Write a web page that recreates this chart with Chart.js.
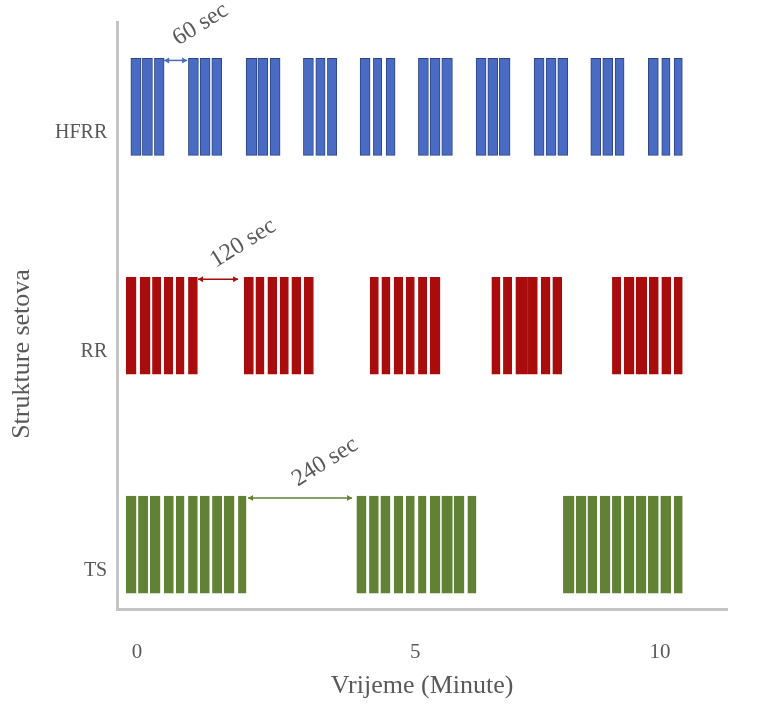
<!DOCTYPE html>
<html>
<head>
<meta charset="utf-8">
<script src="https://cdn.jsdelivr.net/npm/chart.js@4/dist/chart.umd.min.js"></script>
<style>
  html, body { margin: 0; padding: 0; background: #fff; }
  #wrap { width: 762px; height: 712px; }
</style>
</head>
<body>
<div id="wrap"><canvas id="chartSets"></canvas></div>
<script>
// Redovi (strukture setova)
const rowLabels = ['HFRR', 'RR', 'TS'];

// Ponavljanja po redu: [pocetak, kraj] u minutama
const hfrrSets = [
  [-0.12, 0.076], [0.101, 0.293], [0.331, 0.516],
  [0.981, 1.172], [1.205, 1.396], [1.428, 1.620],
  [2.084, 2.289], [2.308, 2.499], [2.543, 2.734],
  [3.180, 3.371], [3.417, 3.595], [3.639, 3.818],
  [4.264, 4.455], [4.518, 4.679], [4.761, 4.933],
  [5.379, 5.570], [5.602, 5.793], [5.826, 6.029],
  [6.482, 6.673], [6.706, 6.897], [6.927, 7.132],
  [7.591, 7.782], [7.820, 8.011], [8.044, 8.235],
  [8.675, 8.866], [8.904, 9.096], [9.140, 9.312],
  [9.776, 9.967], [10.032, 10.191], [10.268, 10.426]
];
const rrSets = [
  [-0.210, -0.019], [0.057, 0.249], [0.293, 0.453], [0.516, 0.683], [0.746, 0.899], [0.981, 1.153],
  [2.046, 2.224], [2.270, 2.428], [2.499, 2.671], [2.734, 2.893], [2.958, 3.130], [3.193, 3.371],
  [4.455, 4.614], [4.679, 4.837], [4.914, 5.080], [5.143, 5.302], [5.379, 5.539], [5.602, 5.793],
  [6.782, 6.941], [7.004, 7.164], [7.241, 7.451], [7.463, 7.654], [7.725, 7.897], [7.948, 8.120],
  [9.088, 9.249], [9.312, 9.503], [9.541, 9.746], [9.795, 9.967], [10.032, 10.205], [10.268, 10.426]
];
const tsSets = [
  [-0.210, -0.019], [0.025, 0.205], [0.249, 0.440], [0.516, 0.694], [0.746, 0.899],
  [0.981, 1.153], [1.205, 1.382], [1.440, 1.620], [1.663, 1.855], [1.937, 2.084],
  [4.201, 4.379], [4.442, 4.614], [4.660, 4.837], [4.914, 5.080], [5.143, 5.302],
  [5.379, 5.526], [5.602, 5.793], [5.826, 6.029], [6.061, 6.252], [6.323, 6.482],
  [8.151, 8.356], [8.394, 8.585], [8.619, 8.791], [8.853, 9.044], [9.088, 9.254],
  [9.312, 9.503], [9.541, 9.732], [9.776, 9.967], [10.013, 10.205], [10.268, 10.426]
];

// Pauze izmedju serija (strelice)
const restRows = [0, 1, 2];
const restStart = [0.516, 1.166, 2.122];
const restEnd = [0.956, 1.931, 4.111];
const restLabels = ['60 sec', '120 sec', '240 sec'];

// Oznake x osi
const xTickValues = [0, 5.32, 10];
const xTickLabels = ['0', '5', '10'];

const COLORS = ['#4a6bc4', '#a80c0c', '#618235'];
const BORDERS = ['#2c4584', '#a80c0c', '#618235'];
const TEXT = '#595959';
const FONT = '"Liberation Serif", "Times New Roman", serif';

function rowData(sets, row) {
  return sets.map(s => ({ x: s, y: row }));
}

const annotations = {
  id: 'annotations',
  afterDatasetsDraw(chart) {
    const ctx = chart.ctx;
    const x = chart.scales.x;
    restRows.forEach((row, i) => {
      const el = chart.getDatasetMeta(row).data[0];
      const top = el.y - el.height / 2 + 2;
      const x1 = x.getPixelForValue(restStart[i]);
      const x2 = x.getPixelForValue(restEnd[i]);
      ctx.save();
      ctx.strokeStyle = COLORS[row];
      ctx.fillStyle = COLORS[row];
      ctx.lineWidth = 1.5;
      ctx.beginPath();
      ctx.moveTo(x1, top);
      ctx.lineTo(x2, top);
      ctx.stroke();
      [[x1, 1], [x2, -1]].forEach(([px, dir]) => {
        ctx.beginPath();
        ctx.moveTo(px, top);
        ctx.lineTo(px + 5 * dir, top - 3);
        ctx.lineTo(px + 5 * dir, top + 3);
        ctx.closePath();
        ctx.fill();
      });
      ctx.translate((x1 + x2) / 2 + 25, top - 36);
      ctx.rotate(-32 * Math.PI / 180);
      ctx.font = '24px ' + FONT;
      ctx.fillStyle = TEXT;
      ctx.textAlign = 'center';
      ctx.textBaseline = 'middle';
      ctx.fillText(restLabels[i], 0, 0);
      ctx.restore();
    });
    // naslov y osi
    ctx.save();
    ctx.translate(22, 354);
    ctx.rotate(-Math.PI / 2);
    ctx.font = '26px ' + FONT;
    ctx.fillStyle = TEXT;
    ctx.textAlign = 'center';
    ctx.textBaseline = 'middle';
    ctx.fillText('Strukture setova', 0, 0);
    ctx.restore();
  }
};

const ctx = document.getElementById('chartSets').getContext('2d');
new Chart(ctx, {
  type: 'bar',
  data: {
    datasets: [
      { label: 'HFRR', data: rowData(hfrrSets, 0) },
      { label: 'RR', data: rowData(rrSets, 1) },
      { label: 'TS', data: rowData(tsSets, 2) }
    ].map((d, i) => Object.assign(d, {
      backgroundColor: COLORS[i],
      borderColor: BORDERS[i],
      borderWidth: 1,
      borderSkipped: false,
      barThickness: 97,
      grouped: false
    }))
  },
  options: {
    indexAxis: 'y',
    responsive: true,
    maintainAspectRatio: false,
    animation: false,
    layout: { autoPadding: false, padding: { left: 45, right: 35, top: 10, bottom: 10 } },
    plugins: {
      legend: { display: false },
      tooltip: { enabled: false }
    },
    scales: {
      x: {
        type: 'linear',
        min: -0.38,
        max: 11.28,
        offset: false,
        grid: { display: false, drawTicks: false },
        border: { color: '#c4c4c4', width: 3 },
        afterBuildTicks: (scale) => { scale.ticks = xTickValues.map(v => ({ value: v })); },
        ticks: {
          autoSkip: false,
          maxRotation: 0,
          padding: 30,
          color: TEXT,
          font: { family: FONT, size: 21 },
          callback: (v, i) => xTickLabels[i]
        },
        title: {
          display: true,
          text: 'Vrijeme (Minute)',
          color: TEXT,
          font: { family: FONT, size: 26 },
          padding: { top: -24, bottom: 0 }
        }
      },
      y: {
        type: 'linear',
        reverse: true,
        min: -0.388,
        max: 2.297,
        offset: false,
        grid: { display: false, drawTicks: false },
        border: { color: '#c4c4c4', width: 3 },
        afterBuildTicks: (scale) => { scale.ticks = rowLabels.map((l, i) => ({ value: i })); },
        ticks: {
          autoSkip: false,
          padding: 10,
          labelOffset: 26,
          color: TEXT,
          font: { family: FONT, size: 20 },
          callback: (v, i) => rowLabels[i]
        }
      }
    }
  },
  plugins: [annotations]
});
</script>
</body>
</html>
